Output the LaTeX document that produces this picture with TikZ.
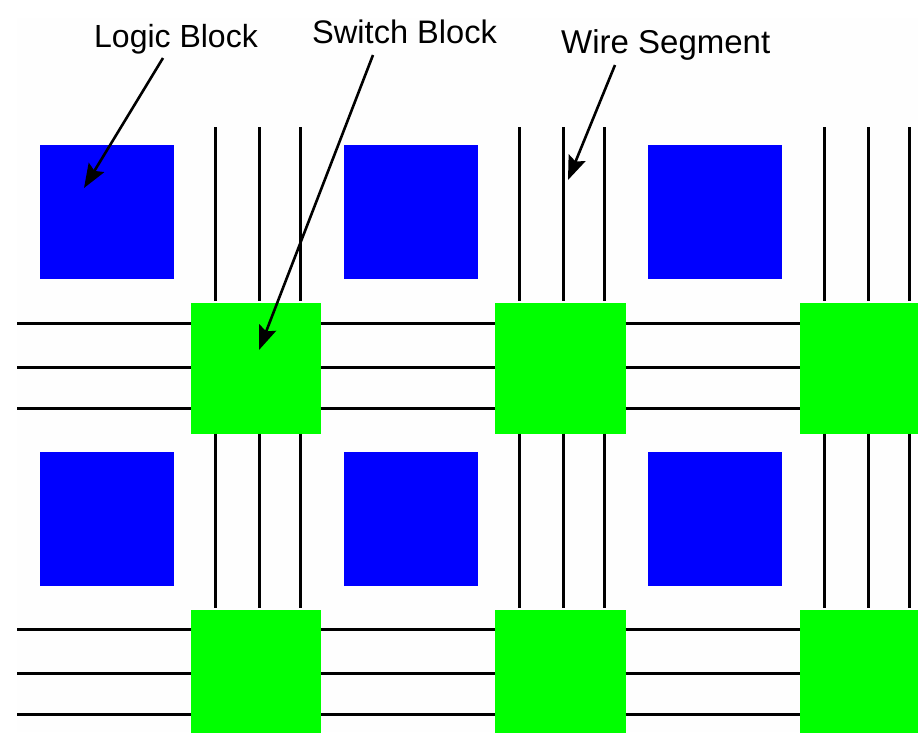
\documentclass[tikz,border=0pt]{standalone}
\usepackage{fontspec}
\setmainfont{Liberation Sans}
\usetikzlibrary{arrows.meta}
\definecolor{paper}{HTML}{FEFEFE}
\definecolor{logicblue}{HTML}{0000FF}
\definecolor{switchgreen}{HTML}{00FF00}
\tikzset{
  logicbox/.style={fill=logicblue,draw=none,minimum size=134pt,inner sep=0pt,outer sep=0pt,anchor=north west},
  switchbox/.style={fill=switchgreen,draw=none,minimum size=130.5pt,inner sep=0pt,outer sep=0pt,anchor=north west},
  wire/.style={line width=3.5pt,draw=black},
  pointer/.style={line width=2.6pt,draw=black,-{Stealth[length=24pt,width=18pt,inset=4pt]}},
  caption/.style={inner sep=0pt,anchor=base west,text=black}
}
\begin{document}
\begin{tikzpicture}[x=1pt,y=-1pt]
\useasboundingbox (0,0) rectangle (918,732);
\clip (0,0) rectangle (918,732);
\fill[white] (0,0) rectangle (918,732);
\fill[paper] (17,18) rectangle (918,732);
% blocks
\foreach \c/\gx/\bx in {1/190.5/40,2/495/344,3/799.5/648}{
  \foreach \r/\gy/\by in {1/303/145,2/609.5/452}{
    \node[logicbox] (lb\r\c) at (\bx,\by) {};
    \node[switchbox] (sw\r\c) at (\gx,\gy) {};
  }
}
% vertical wires
\foreach \c/\gx in {1/191,2/495,3/800}{
  \foreach \w/\dx in {1/24.5,2/68.5,3/109.5}{
    \coordinate (vt\c\w) at (\gx+\dx,127);
    \draw[wire,shorten >=2pt] (vt\c\w) -- (vt\c\w |- sw1\c.north);
    \draw[wire,shorten >=2pt] (vt\c\w |- sw1\c.south) -- (vt\c\w |- sw2\c.north);
  }
}
% horizontal wires
\foreach \r/\gy in {1/303,2/609}{
  \foreach \w/\dy in {1/20.5,2/64.5,3/105.5}{
    \coordinate (hl\r\w) at (17,\gy+\dy);
    \draw[wire] (hl\r\w) -- (hl\r\w -| sw\r1.west);
    \draw[wire] (hl\r\w -| sw\r1.east) -- (hl\r\w -| sw\r2.west);
    \draw[wire] (hl\r\w -| sw\r2.east) -- (hl\r\w -| sw\r3.west);
  }
}
% labels
\node[caption,font=\fontsize{32}{32}\selectfont] (logiclabel) at (94,47) {Logic Block};
\node[caption,font=\fontsize{32.6}{32.6}\selectfont] (switchlabel) at (312,43) {Switch Block};
\node[caption,font=\fontsize{33}{33}\selectfont] (wirelabel) at (561,53) {Wire Segment};
% pointers
\coordinate (logicstart) at (163,58);
\coordinate (switchstart) at (373,55);
\coordinate (wirestart) at (615,65);
\coordinate (logictip) at (84,188);
\coordinate (switchtip) at (259,350);
\coordinate (wiretip) at (568,180);
\draw[pointer] (logicstart) -- (logictip);
\draw[pointer] (switchstart) -- (switchtip);
\draw[pointer] (wirestart) -- (wiretip);
\end{tikzpicture}
\end{document}
